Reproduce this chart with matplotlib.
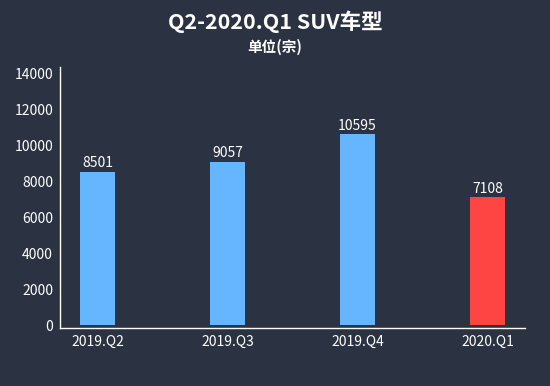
#!/usr/bin/env python3
import matplotlib
matplotlib.use("Agg")
import matplotlib.pyplot as plt

plt.rcParams['font.family'] = ['Noto Sans CJK SC', 'DejaVu Sans']

quarters = ['2019.Q2', '2019.Q3', '2019.Q4', '2020.Q1']
sales = [8501, 9057, 10595, 7108]
colors = ['#66b5ff', '#66b5ff', '#66b5ff', '#ff4444']
yticks = [0, 2000, 4000, 6000, 8000, 10000, 12000, 14000]

bg = '#2b3241'
fig = plt.figure(figsize=(5.5, 3.86), dpi=100, facecolor=bg)
ax = fig.add_axes([0.109, 0.150, 0.846, 0.676], facecolor=bg)

x = range(len(quarters))
bars = ax.bar(x, sales, width=0.27, color=colors)
for b, v in zip(bars, sales):
    ax.text(b.get_x() + b.get_width() / 2, v + 100, str(v), ha='center', va='bottom',
            color='white', fontsize=10)

ax.set_xlim(-0.29, 3.29)
ax.set_ylim(-150, 14330)
ax.set_xticks(list(x))
ax.set_xticklabels(quarters, color='white', fontsize=10)
ax.set_yticks(yticks)
ax.set_yticklabels([str(t) for t in yticks], color='white', fontsize=10)
ax.tick_params(length=0, pad=5)

for s in ['top', 'right']:
    ax.spines[s].set_visible(False)
for s in ['left', 'bottom']:
    ax.spines[s].set_color('white')
    ax.spines[s].set_linewidth(1)

fig.text(168 / 550, 1 - 22 / 386, 'Q2-2020.Q1 SUV车型', ha='left', va='center',
         color='white', fontsize=15.5, fontweight='bold')
fig.text(275 / 550, 1 - 47 / 386, '单位(宗)', ha='center', va='center',
         color='white', fontsize=10.5, fontweight='bold')

fig.savefig('out.png', dpi=100, facecolor=bg)
